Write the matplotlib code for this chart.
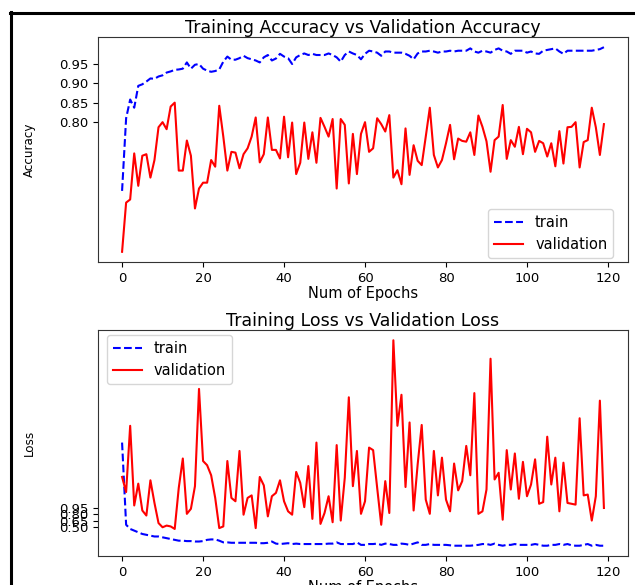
import numpy as np
import matplotlib
matplotlib.use('Agg')
import matplotlib.pyplot as plt
from matplotlib.lines import Line2D

# 每个epoch的训练/验证准确率
train_acc = [0.624, 0.81, 0.858, 0.837, 0.893, 0.897, 0.904, 0.912, 0.911, 0.917,
             0.92, 0.927, 0.93, 0.934, 0.935, 0.937, 0.953, 0.937, 0.947, 0.949,
             0.937, 0.932, 0.929, 0.931, 0.935, 0.955, 0.968, 0.96, 0.96, 0.964,
             0.97, 0.964, 0.961, 0.958, 0.953, 0.966, 0.972, 0.958, 0.963, 0.975,
             0.968, 0.964, 0.949, 0.966, 0.972, 0.976, 0.972, 0.975, 0.972, 0.972,
             0.972, 0.976, 0.972, 0.966, 0.955, 0.972, 0.981, 0.976, 0.972, 0.961,
             0.975, 0.983, 0.981, 0.978, 0.97, 0.981, 0.981, 0.978, 0.978, 0.978,
             0.975, 0.97, 0.961, 0.976, 0.981, 0.981, 0.983, 0.981, 0.978, 0.981,
             0.981, 0.983, 0.981, 0.983, 0.983, 0.983, 0.989, 0.981, 0.978, 0.983,
             0.981, 0.978, 0.985, 0.989, 0.983, 0.981, 0.975, 0.983, 0.983, 0.983,
             0.978, 0.981, 0.976, 0.975, 0.983, 0.985, 0.987, 0.989, 0.981, 0.975,
             0.983, 0.983, 0.983, 0.983, 0.983, 0.983, 0.983, 0.985, 0.987, 0.992]
val_acc = [0.468, 0.594, 0.602, 0.72, 0.637, 0.714, 0.718, 0.658, 0.703, 0.787,
           0.80, 0.782, 0.84, 0.85, 0.676, 0.676, 0.753, 0.714, 0.579, 0.63,
           0.645, 0.645, 0.703, 0.686, 0.842, 0.763, 0.676, 0.724, 0.722, 0.682,
           0.718, 0.733, 0.763, 0.812, 0.697, 0.718, 0.812, 0.729, 0.729, 0.707,
           0.814, 0.71, 0.799, 0.667, 0.696, 0.799, 0.706, 0.774, 0.696, 0.811,
           0.788, 0.763, 0.808, 0.63, 0.808, 0.793, 0.643, 0.77, 0.667, 0.77,
           0.80, 0.724, 0.733, 0.81, 0.795, 0.776, 0.818, 0.658, 0.677, 0.641,
           0.784, 0.665, 0.741, 0.701, 0.69, 0.763, 0.837, 0.716, 0.684, 0.703,
           0.746, 0.793, 0.705, 0.758, 0.752, 0.75, 0.774, 0.716, 0.817, 0.788,
           0.751, 0.673, 0.754, 0.763, 0.844, 0.706, 0.754, 0.737, 0.788, 0.718,
           0.783, 0.774, 0.724, 0.752, 0.746, 0.712, 0.746, 0.687, 0.777, 0.694,
           0.787, 0.788, 0.80, 0.684, 0.749, 0.754, 0.837, 0.787, 0.716, 0.795]

# 每个epoch的训练/验证损失
train_loss = [2.51, 0.55, 0.45, 0.41, 0.37, 0.33, 0.31, 0.29, 0.27, 0.27,
              0.25, 0.23, 0.21, 0.19, 0.17, 0.17, 0.16, 0.16, 0.15, 0.15,
              0.16, 0.19, 0.20, 0.20, 0.17, 0.13, 0.13, 0.12, 0.12, 0.12,
              0.12, 0.12, 0.12, 0.12, 0.11, 0.11, 0.12, 0.15, 0.10, 0.09,
              0.10, 0.11, 0.09, 0.10, 0.09, 0.09, 0.09, 0.09, 0.09, 0.09,
              0.09, 0.10, 0.10, 0.13, 0.09, 0.09, 0.09, 0.09, 0.13, 0.07,
              0.07, 0.09, 0.09, 0.10, 0.07, 0.10, 0.09, 0.07, 0.07, 0.10,
              0.09, 0.07, 0.10, 0.13, 0.07, 0.07, 0.09, 0.07, 0.07, 0.07,
              0.07, 0.06, 0.05, 0.05, 0.05, 0.05, 0.05, 0.06, 0.07, 0.09,
              0.09, 0.07, 0.10, 0.07, 0.05, 0.07, 0.07, 0.09, 0.07, 0.07,
              0.07, 0.07, 0.09, 0.07, 0.05, 0.05, 0.07, 0.07, 0.09, 0.07,
              0.09, 0.06, 0.05, 0.05, 0.07, 0.09, 0.05, 0.07, 0.05, 0.05]
val_loss = [1.69, 1.33, 2.91, 1.01, 1.53, 0.89, 0.77, 1.61, 1.07, 0.59,
            0.49, 0.53, 0.51, 0.45, 1.43, 2.13, 0.81, 0.93, 1.47, 3.79,
            2.07, 1.97, 1.73, 1.19, 0.47, 0.51, 2.07, 1.19, 1.11, 2.31,
            0.79, 1.19, 1.25, 0.47, 1.69, 1.49, 0.75, 1.23, 1.31, 1.61,
            1.11, 0.87, 0.79, 1.81, 1.55, 0.97, 1.95, 0.69, 2.51, 0.57,
            0.83, 1.23, 0.61, 2.45, 0.65, 1.67, 3.59, 1.47, 2.31, 0.81,
            1.11, 2.39, 2.33, 1.43, 0.55, 1.59, 0.83, 4.95, 2.91, 3.65,
            1.45, 2.99, 0.89, 1.99, 2.93, 1.15, 0.81, 2.31, 1.25, 2.15,
            1.15, 0.87, 2.01, 1.37, 1.59, 2.43, 1.73, 3.69, 0.81, 0.87,
            1.39, 4.51, 1.63, 1.79, 0.67, 2.33, 1.39, 2.25, 1.17, 2.05,
            1.23, 1.51, 2.11, 1.05, 1.09, 2.65, 1.51, 2.15, 0.87, 2.03,
            1.07, 1.05, 1.03, 3.09, 1.25, 1.27, 0.65, 1.23, 3.51, 0.95]

acc_ticks = [0.80, 0.85, 0.90, 0.95]
loss_ticks = [0.50, 0.65, 0.80, 0.95]


def draw_frame(fig):
    """
    画外框（左边和上边的黑线）
    """
    w, h = fig.get_size_inches() * fig.dpi
    fig.add_artist(Line2D([11 / w, 11 / w], [-0.01, 1 - 12 / h],
                          transform=fig.transFigure, color='black', lw=2.2))
    fig.add_artist(Line2D([10 / w, 1.01], [1 - 13 / h, 1 - 13 / h],
                          transform=fig.transFigure, color='black', lw=2.2))


def plot_history():
    epochs = np.arange(len(train_acc))
    fig = plt.figure(figsize=(6.35, 5.85), dpi=100)
    ax1 = fig.add_axes([0.1543, 0.5521, 0.8347, 0.3847])
    ax2 = fig.add_axes([0.1543, 0.0496, 0.8347, 0.3863])

    # 准确率
    ax1.plot(epochs, train_acc, 'b--', label='train')
    ax1.plot(epochs, val_acc, 'r-', label='validation')
    ax1.set_title('Training Accuracy vs Validation Accuracy', fontsize=12.5, pad=3)
    ax1.set_xlabel('Num of Epochs', fontsize=10.5, labelpad=1)
    ax1.set_ylabel('Accuracy', fontsize=9.5, fontstretch='condensed')
    ax1.yaxis.set_label_coords(-0.118, 0.5)
    ax1.set_yticks(acc_ticks)
    ax1.legend(loc='lower right', bbox_to_anchor=(0.972, 0.018),
               borderaxespad=0, fontsize=10.5)

    # 损失
    ax2.plot(epochs, train_loss, 'b--', label='train')
    ax2.plot(epochs, val_loss, 'r-', label='validation')
    ax2.set_title('Training Loss vs Validation Loss', fontsize=12.5, pad=3)
    ax2.set_xlabel('Num of Epochs', fontsize=10.5, labelpad=1)
    ax2.set_ylabel('Loss', fontsize=9.5, fontstretch='condensed')
    ax2.yaxis.set_label_coords(-0.118, 0.5)
    ax2.set_yticks(loss_ticks)
    ax2.legend(loc='upper left', bbox_to_anchor=(0.017, 0.978),
               borderaxespad=0, fontsize=10.5)

    for ax in (ax1, ax2):
        ax.tick_params(labelsize=9.5)
        for s in ax.spines.values():
            s.set_color('#333333')

    draw_frame(fig)
    fig.savefig('out.png', dpi=100)


if __name__ == "__main__":
    plot_history()
